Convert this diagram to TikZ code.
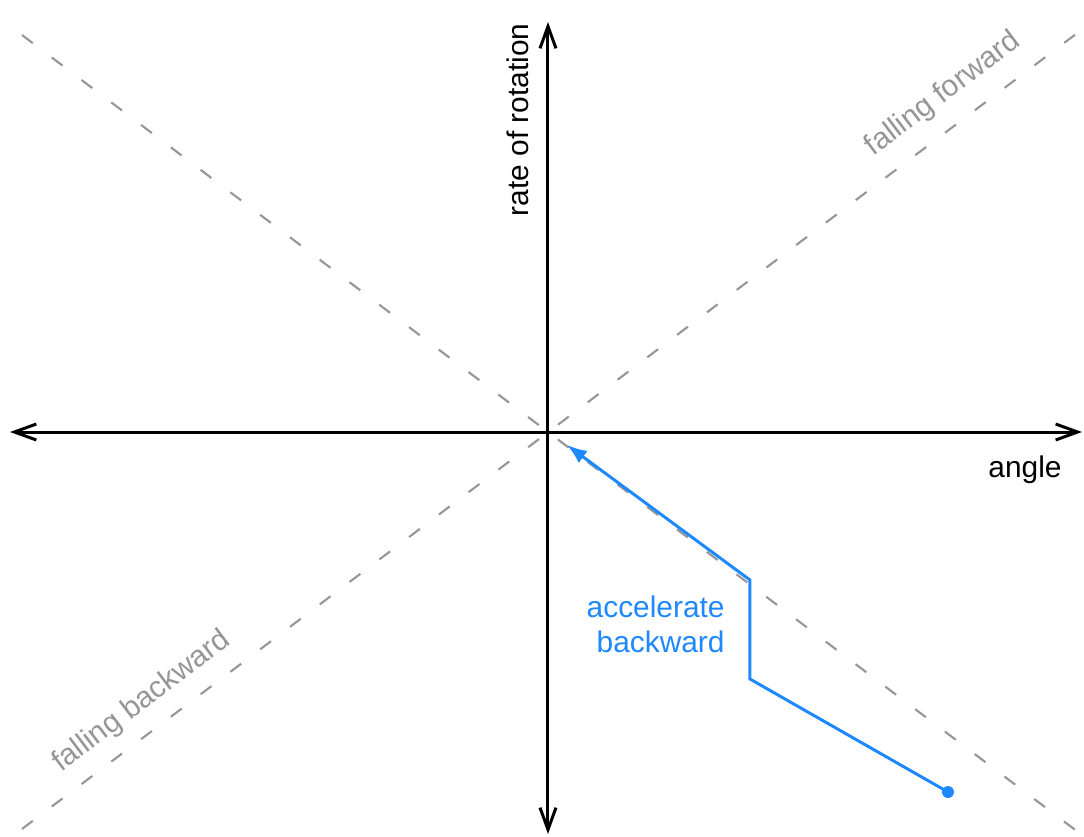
\documentclass[tikz,border=0pt]{standalone}
\usepackage{fontspec}
\setmainfont{Liberation Sans}
\usepackage{tikz}
\usetikzlibrary{arrows.meta,calc,positioning}
\usepackage{xcolor}
\definecolor{pathblue}{RGB}{30,136,255}
\definecolor{guidegray}{RGB}{150,150,150}

\begin{document}
\begin{tikzpicture}[
  axis/.style={black,line width=.85pt,{Straight Barb[length=2.2mm,width=1.6mm]}-{Straight Barb[length=2.2mm,width=1.6mm]}},
  guide/.style={guidegray,line width=.6pt,dash pattern=on 1.35mm off 2.38mm},
  guidelbl/.style={text=guidegray,font=\fontsize{8.5}{10}\selectfont,rotate=37},
  lbl/.style={font=\fontsize{8.5}{10}\selectfont},
  traj/.style={pathblue,line width=.85pt,-{Latex[length=2mm,width=1.5mm]}},
  startdot/.style={circle,fill=pathblue,inner sep=0pt,minimum size=1.2mm}
]
\useasboundingbox (-5.48,-4.04) rectangle (5.36,4.32);
\coordinate (O) at (0,0);
% axes
\coordinate (xl) at (-5.38,0);
\coordinate (xr) at (5.34,0);
\coordinate (yt) at (0,4.10);
\coordinate (yb) at (0,-4.02);
% falling lines
\coordinate (bl) at (-5.26,-3.97);
\coordinate (tr) at (5.28,3.98);
\coordinate (tl) at (-5.26,3.97);
\coordinate (br) at (5.30,-4.00);
\draw[guide] (tl)--(br);
\draw[guide] (bl)--(tr);
\draw[axis] (xl)--(xr);
\draw[axis] (yb)--(yt);
\node[lbl,rotate=90] (ylbl) at (-0.30,3.12) {rate of rotation};
\node[lbl] (xlbl) at (4.77,-0.38) {angle};
\node[guidelbl] (fwd) at (3.95,3.38) {falling forward};
\node[guidelbl] (bwd) at (-4.06,-2.70) {falling backward};
% trajectory
\node[startdot] (s) at (4.00,-3.60) {};
\coordinate (k1) at (2.02,-2.47);
\coordinate (k2) at (2.02,-1.48);
\coordinate (e) at (0.19,-0.13);
\draw[traj] (s.center)--(k1)--(k2)--(e);
\node[lbl,text=pathblue,align=right,anchor=east] (acc) at (1.89,-1.92) {accelerate\\backward};
\end{tikzpicture}
\end{document}
